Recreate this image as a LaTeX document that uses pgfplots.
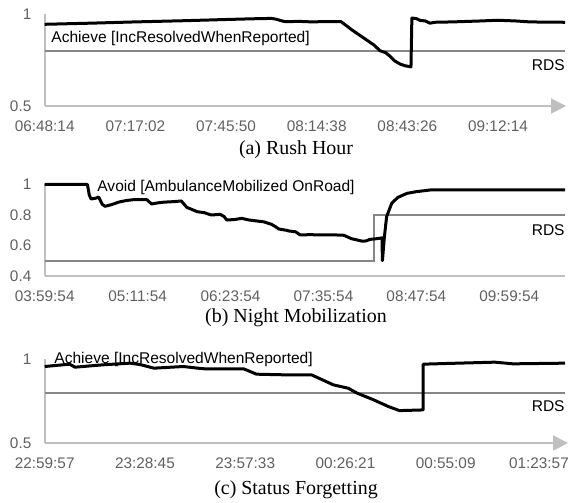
\documentclass[border=0pt]{standalone}
\usepackage{fontspec}
\setmainfont{Liberation Serif}
\newfontfamily\arial{Liberation Sans}
\usepackage{pgfplots}
\pgfplotsset{compat=1.18}
\usetikzlibrary{arrows.meta}

\definecolor{axisgray}{HTML}{BFBFBF}
\definecolor{rdsgray}{HTML}{868686}
\definecolor{labelgray}{HTML}{606060}

\pgfplotsset{
  panel/.style={
    scale only axis, clip=false,
    anchor=south west,
    axis x line=bottom, axis y line=left,
    x axis line style={draw=axisgray, line width=1bp, -{Triangle[width=7.5bp,length=7.5bp]}},
    y axis line style={draw=axisgray, line width=1bp, -},
    xmin=0, ymax=1,
    xtick={0,...,5},
    major tick length=0pt, tick style={draw=none},
    tick label style={font=\fontsize{7.7}{9}\arial, text=labelgray, inner sep=0pt},
    xticklabel style={anchor=north, yshift=-7bp},
    yticklabel style={anchor=east, xshift=-6.5bp},
  },
}
\tikzset{
  rds/.style={rdsgray, line width=1bp},
  goal/.style={black, line width=1.5bp, line join=round},
  note/.style={font=\fontsize{7.8}{9}\arial, inner sep=0pt},
}

\begin{document}
\begin{tikzpicture}
\useasboundingbox (0,0) rectangle (285.5bp,251.5bp);

% (a) Rush Hour
\begin{axis}[panel, at={(22.35bp,198.5bp)}, width=260.65bp, height=46bp,
  xmax=5.75, ymin=0.5, ytick={0.5,1}, yticklabels={0.5,1},
  xticklabels={06:48:14,07:17:02,07:45:50,08:14:38,08:43:26,09:12:14}]
\addplot[rds] coordinates {(0,0.8) (5.74,0.8)};
\addplot[goal] coordinates {
  (0,0.944) (0.5,0.950) (1.0,0.957) (1.5,0.963) (2.0,0.970) (2.3,0.974)
  (2.5,0.976) (2.55,0.972) (2.62,0.962) (2.66,0.958) (2.8,0.960) (2.95,0.957)
  (3.1,0.959) (3.27,0.958) (3.39,0.913) (3.55,0.859) (3.63,0.832) (3.70,0.800)
  (3.76,0.790) (3.81,0.770) (3.86,0.745) (3.92,0.728) (3.98,0.718) (4.04,0.713)
  (4.05,0.978) (4.10,0.975) (4.14,0.965) (4.20,0.962) (4.25,0.950) (4.30,0.955)
  (4.5,0.957) (4.8,0.962) (5.0,0.966) (5.2,0.962) (5.35,0.957) (5.5,0.956)
  (5.74,0.955)};
\node[note, anchor=west] at (axis cs:0.07,0.868) {Achieve [IncResolvedWhenReported]};
\node[note, anchor=east] at (axis cs:5.74,0.723) {RDS};
\end{axis}

% (b) Night Mobilization
\begin{axis}[panel, at={(22.35bp,113.5bp)}, width=260.15bp, height=45.75bp,
  x axis line style={-},
  xmax=5.60, ymin=0.4, ytick={0.4,0.6,0.8,1}, yticklabels={0.4,0.6,0.8,1},
  xticklabels={03:59:54,05:11:54,06:23:54,07:35:54,08:47:54,09:59:54}]
\addplot[rds] coordinates {(0,0.5) (3.54,0.5) (3.54,0.8) (5.60,0.8)};
\addplot[goal] coordinates {
  (0,1) (0.46,1) (0.48,0.93) (0.50,0.905) (0.55,0.91) (0.58,0.918) (0.62,0.87)
  (0.65,0.857) (0.72,0.868) (0.80,0.885) (0.88,0.895) (0.95,0.900) (1.10,0.900)
  (1.15,0.872) (1.20,0.878) (1.28,0.884) (1.40,0.888) (1.47,0.892) (1.53,0.850)
  (1.57,0.840) (1.64,0.822) (1.72,0.815) (1.79,0.800) (1.89,0.804) (1.93,0.790)
  (1.96,0.767) (2.04,0.770) (2.12,0.778) (2.20,0.767) (2.28,0.761) (2.36,0.755)
  (2.44,0.739) (2.48,0.725) (2.52,0.708) (2.60,0.700) (2.63,0.695) (2.70,0.690)
  (2.75,0.669) (2.85,0.671) (2.99,0.669) (3.10,0.670) (3.22,0.667) (3.30,0.645)
  (3.42,0.628) (3.46,0.630) (3.50,0.640) (3.58,0.645) (3.63,0.650) (3.635,0.50)
  (3.655,0.65) (3.68,0.789) (3.735,0.877) (3.80,0.915) (3.90,0.942) (4.0,0.953)
  (4.15,0.964) (5.60,0.964)};
\node[note, anchor=west] at (axis cs:0.563,0.979) {Avoid [AmbulanceMobilized OnRoad]};
\node[note, anchor=east] at (axis cs:5.60,0.702) {RDS};
\end{axis}

% (c) Status Forgetting
\begin{axis}[panel, at={(22.35bp,30bp)}, width=261.65bp, height=41.75bp,
  xmax=5.22, ymin=0.5, ytick={0.5,1}, yticklabels={0.5,1},
  xtick={0,1,2,3,4,4.93},
  xticklabels={22:59:57,23:28:45,23:57:33,00:26:21,00:55:09,01:23:57}]
\addplot[rds] coordinates {(0,0.8) (5.19,0.8)};
\addplot[goal] coordinates {
  (0,0.958) (0.248,0.972) (0.303,0.954) (0.578,0.968) (0.851,0.978) (0.95,0.970)
  (1.089,0.948) (1.382,0.958) (1.528,0.948) (1.60,0.944) (1.985,0.944)
  (2.113,0.912) (2.405,0.908) (2.662,0.908) (2.88,0.848) (3.027,0.828)
  (3.118,0.798) (3.283,0.758) (3.429,0.718) (3.539,0.694) (3.776,0.698)
  (3.776,0.972) (4.124,0.978) (4.489,0.984) (4.672,0.974) (5.19,0.978)};
\node[note, anchor=west] at (axis cs:0.093,1.0) {Achieve [IncResolvedWhenReported]};
\node[note, anchor=east] at (axis cs:5.19,0.718) {RDS};
\end{axis}

\node[font=\fontsize{10}{12}\selectfont] at (148bp,176.5bp) {(a) Rush Hour};
\node[font=\fontsize{10}{12}\selectfont] at (148bp,92.5bp) {(b) Night Mobilization};
\node[font=\fontsize{10}{12}\selectfont] at (148bp,6.5bp) {(c) Status Forgetting};
\end{tikzpicture}
\end{document}
